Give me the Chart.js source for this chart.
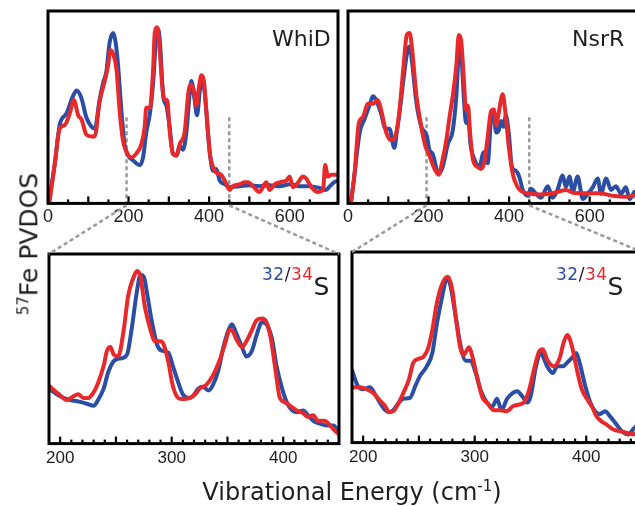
<!DOCTYPE html>
<html>
<head>
<meta charset="utf-8">
<script src="https://cdn.jsdelivr.net/npm/chart.js@4.4.1/dist/chart.umd.min.js"></script>
<style>
html, body { margin: 0; padding: 0; background: #fff; width: 635px; height: 506px; overflow: hidden; position: relative; }
canvas { position: absolute; }
.lbl { position: absolute; font-family: "DejaVu Sans", sans-serif; color: #1e1e1e; white-space: nowrap; line-height: 1; }
.sm { font-size: 17px; position: relative; top: -15px; letter-spacing: 0.5px; }
</style>
</head>
<body>
<canvas id="tl" width="314" height="233" style="left:36px;top:0px"></canvas>
<canvas id="tr" width="314" height="233" style="left:336px;top:0px"></canvas>
<canvas id="bl" width="314" height="234" style="left:36px;top:242px"></canvas>
<canvas id="br" width="314" height="235" style="left:340px;top:240px"></canvas>
<canvas id="links" width="635" height="506" style="left:0;top:0;pointer-events:none"></canvas>

<div class="lbl" style="left:272px;top:28px;font-size:22px">WhiD</div>
<div class="lbl" style="left:572px;top:28px;font-size:22px">NsrR</div>
<div class="lbl" style="left:262px;top:274px;font-size:25px"><span class="sm" style="color:#2a4ea3">32</span><span class="sm">/</span><span class="sm" style="color:#e8292b">34</span>S</div>
<div class="lbl" style="left:556px;top:274px;font-size:25px"><span class="sm" style="color:#2a4ea3">32</span><span class="sm">/</span><span class="sm" style="color:#e8292b">34</span>S</div>
<div class="lbl" style="left:29px;top:244px;font-size:25px;transform:translate(-50%,-50%) rotate(-90deg)"><sup style="font-size:15px">57</sup>Fe PVDOS</div>
<div class="lbl" style="left:352px;top:479px;font-size:24px;transform:translateX(-50%)">Vibrational Energy (cm<sup style="font-size:15px">-1</sup>)</div>

<script>
// WhiD, full range
const whid32E = [3,17,29,46,62,71,83,95,108,116,128,137,145,153,162,168,174,182,190,199,211,228,236,244,253,261,269,274,279,286,294,302,310,319,327,335,344,352,356,364,370,377,383,389,397,403,410,418,426,439,451,476,500,525,550,575,600,625,650,675,690,700,710,720];
const whid32V = [1,21,41,47,56,59,55,45,40,39,54,63,69,84,89,84,72,49,31,25,22.5,20,24,37,47,63,88,91,81,56,51,40,26,25,30,28,38,58,64,54,46,59,65,58,37,24,17,18,12,10,8.5,9,9.5,9,9.5,9,10,9,9,8,7,9,11,12];
const whid34E = [4,17,29,42,54,64,75,83,95,108,116,128,141,149,155,162,170,178,186,195,207,219,232,240,244,253,261,265,271,277,283,290,296,302,310,319,327,339,350,356,363,368,375,381,387,393,402,408,418,430,441,451,459,476,488,497,509,525,542,550,563,575,592,600,608,621,633,641,654,670,683,688,695,703,716];
const whid34V = [1.4,21,39,41,47,54,46,44,36,35,35,53,64,72,80,78,70,48,33,27,24,26,31,40,50,50,70,89,92,81,63,54,54,38,26,25,31,37,60,62,58,51,61,67,64,49,26,20,16,15,11,7,9,10,11,11,9,6,11,7,10,11,12,14,8.5,11,14,13,8.5,6,7,20,14,15,15];

// NsrR, full range
const nsrr32E = [8,16,29,41,53,62,70,82,93,103,115,121,129,139,147,153,159,169,182,190,196,202,210,225,235,248,260,269,277,283,288,293,298,304,314,326,335,341,347,355,361,368,374,380,386,392,399,407,417,425,434,446,454,467,479,496,508,520,533,541,550,558,570,583,595,608,620,628,641,653,665,678,690,699,711];
const nsrr32V = [1.4,15,37,44,51,56,54,47,39,39,29,37,49,67,79,82,74,54,40,37.5,35,28,26,15.5,19,31,38,56,84,72,54,42,46,31,23,19,26,27,21,44,47,37,38,43,40,46,37,19,17,14,7,4,7.6,5,3,9,3,7,14.6,8.5,14,6,14,2.3,5,8.5,13,5,13,7,9,5,8.5,2.3,6];
const nsrr34E = [8,16,27,37,49,62,74,82,95,107,120,128,138,146,153,159,169,182,192,202,215,225,235,244,252,260,269,275,281,287,293,298,303,310,322,330,338,347,355,362,368,374,384,391,399,409,421,434,450,475,508,541,558,591,624,657,690,711];
const nsrr34V = [1.4,15,42,45,52,52,54,49,37,33,37,49,72,88,89,81,58,40,30,25,18,15,23,33,45,56,72,88,85,67,49,51,37,23,19,18,21,35,48,49,41,47,57,47,30,15.5,8.5,6,5,4.6,5.3,7,5.6,5.3,5.3,4,3.5,4];

// WhiD, 190-450 zoom
const whidZ32E = [190,200,209,218,224,230,234,239,243,249,255,260,264,269,272,275,278,282,287,291,297,301,306,310,315,319,324,328,333,337,342,346,351,354,358,363,367,372,376,381,385,390,394,399,403,408,412,418,422,427,433,439,445,450];
const whidZ32V = [29,25,23,22,21,20,23,29,37.5,44,45,47,60,81,89,88,79,65,52,49,48,41,32,26,24,25,29,30,28,31,39,50,60,63,58,51,46,49,57,64,63,55,41,29,22,17.5,16.6,17.5,15,12,10.5,9.6,9.6,6];
const whidZ34E = [190,199,206,212,216,221,225,230,234,239,242,245,248,252,257,261,266,269,272,276,281,285,290,293,297,301,306,310,316,321,325,331,337,343,348,352,355,358,363,367,372,376,381,385,389,393,397,401,406,412,418,422,427,431,437,442,446,450];
const whidZ34V = [30.5,26,23,25,26,24,24,27,32,41,49,51,47,46,60,78,88,91,88,72,60,54,54,52,43,30.5,24,23.5,24,26,29,31,36,44,53,60,59,55,51,54,60,65,66,64,55,39,24,22,20,17.5,16,14,15,12,12,9.6,7,5];

// NsrR, 190-450 zoom
const nsrrZ32E = [190,195,200,206,211,215,220,223,227,232,236,242,247,251,257,262,266,271,275,278,283,287,292,296,301,305,311,316,320,324,329,334,338,343,347,350,355,359,365,370,374,379,383,388,391,394,399,403,408,412,417,421,426,432,438,442,445,450];
const nsrrZ32V = [38,30,28,29,25,21,17,16,17,21,23,23.5,30,35,40,47,62,77,86,83,66,52,43,43,36.5,28,21,19,23,17,23,26,27,24,21,24,40,47,40,36.5,40,40,42,45,47,42,30,22,16.5,15,16.5,14,10.4,6,4.3,7,8.7,10];
const nsrrZ34E = [190,197,203,209,215,220,223,227,232,236,241,245,250,254,258,262,266,271,276,280,283,287,290,295,298,302,307,311,317,323,329,334,340,344,349,353,358,361,365,371,376,380,383,387,391,396,400,405,409,414,418,424,430,436,442,445,450];
const nsrrZ34V = [29,29,28,26,22,19,16,16.5,21,26,33,42,44,45,49,59,73,83.5,87,80,66,50,46,50,45,35,23.5,21,17,17,16.5,19,20,21,28,38,48,49,43.5,40,44,53,56.5,51,40,28,23.5,19,14,11,9.6,7,6,5.2,4.3,5,5];

const fullTickLabels = [0, 200, 400, 600];
const zoomTickLabels = [200, 300, 400];
const zoomEdges = [195, 450];

const BLUE = '#2a4ea3';
const RED = '#e8292b';

const pts = (xs, ys) => xs.map((x, i) => ({ x: x, y: ys[i] }));

// box, inward ticks and dashed guide lines
const framePlugin = {
  id: 'frame',
  beforeDatasetsDraw(chart, args, opts) {
    if (!opts.dashes) return;
    const { ctx, chartArea: a, scales: { x, y } } = chart;
    ctx.save();
    ctx.strokeStyle = '#9a9a9a';
    ctx.lineWidth = 2.5;
    ctx.setLineDash([4, 3]);
    opts.dashes.forEach(e => {
      const px = x.getPixelForValue(e);
      ctx.beginPath();
      ctx.moveTo(px, y.getPixelForValue(opts.dashTop));
      ctx.lineTo(px, a.bottom);
      ctx.stroke();
    });
    ctx.restore();
  },
  afterDraw(chart, args, opts) {
    const { ctx, chartArea: a, scales: { x } } = chart;
    ctx.save();
    ctx.strokeStyle = '#000';
    ctx.lineWidth = 2.2;
    x.ticks.forEach(t => {
      if (t.value % opts.minor) return;
      const px = x.getPixelForValue(t.value);
      if (px <= a.left + 2 || px >= a.right - 2) return;
      const len = t.value % opts.major ? 4 : 7;
      ctx.beginPath();
      ctx.moveTo(px, a.bottom);
      ctx.lineTo(px, a.bottom - len);
      ctx.stroke();
    });
    ctx.lineWidth = 3;
    ctx.strokeRect(a.left, a.top, a.right - a.left, a.bottom - a.top);
    ctx.restore();
  }
};

function panel(id, o) {
  return new Chart(document.getElementById(id), {
    type: 'line',
    data: {
      datasets: [
        { data: pts(o.redE, o.redV), borderColor: RED },
        { data: pts(o.blueE, o.blueV), borderColor: BLUE }
      ]
    },
    options: {
      responsive: false,
      animation: false,
      layout: { padding: o.pad },
      elements: {
        point: { radius: 0 },
        line: { borderWidth: 4, cubicInterpolationMode: 'monotone', borderJoinStyle: 'round', borderCapStyle: 'round' }
      },
      plugins: {
        legend: { display: false },
        tooltip: { enabled: false },
        frame: { minor: o.minor, major: o.major, dashes: o.dashes, dashTop: 45 }
      },
      scales: {
        x: {
          type: 'linear',
          min: o.min,
          max: o.max,
          grid: { display: false, drawTicks: false },
          border: { display: false },
          ticks: {
            stepSize: o.minor,
            autoSkip: false,
            maxRotation: 0,
            padding: o.tickPad,
            color: '#1e1e1e',
            font: { family: 'Liberation Sans', size: o.font },
            callback: v => o.labels.includes(v) ? String(v) : ''
          }
        },
        y: { display: false, min: 0, max: o.ymax }
      }
    },
    plugins: [framePlugin]
  });
}

const tl = panel('tl', {
  blueE: whid32E, blueV: whid32V, redE: whid34E, redV: whid34V,
  min: 0, max: 720, minor: 50, major: 100, labels: fullTickLabels, font: 18, tickPad: 3,
  ymax: 100.5, dashes: zoomEdges, pad: { left: 12, right: 12, top: 11, bottom: 2 }
});
const tr = panel('tr', {
  blueE: nsrr32E, blueV: nsrr32V, redE: nsrr34E, redV: nsrr34V,
  min: 0, max: 720, minor: 50, major: 100, labels: fullTickLabels, font: 18, tickPad: 3,
  ymax: 100.5, dashes: zoomEdges, pad: { left: 12, right: 12, top: 11, bottom: 2 }
});
const bl = panel('bl', {
  blueE: whidZ32E, blueV: whidZ32V, redE: whidZ34E, redV: whidZ34V,
  min: 190, max: 450, minor: 10, major: 50, labels: zoomTickLabels, font: 17, tickPad: 5,
  ymax: 100, pad: { left: 13, right: 11, top: 12, bottom: 2 }
});
const br = panel('br', {
  blueE: nsrrZ32E, blueV: nsrrZ32V, redE: nsrrZ34E, redV: nsrrZ34V,
  min: 190, max: 450, minor: 10, major: 50, labels: zoomTickLabels, font: 17, tickPad: 5,
  ymax: 100, pad: { left: 12, right: 12, top: 12, bottom: 2 }
});

// dashed connectors from the full spectra down to the zoomed panels
const lc = document.getElementById('links').getContext('2d');
lc.strokeStyle = '#9a9a9a';
lc.lineWidth = 2.5;
lc.setLineDash([4, 3]);
function connect(top, bottom) {
  const t0 = { x: top.canvas.offsetLeft, y: top.canvas.offsetTop };
  const b0 = { x: bottom.canvas.offsetLeft, y: bottom.canvas.offsetTop };
  const yTop = t0.y + top.chartArea.bottom + 2;
  const yBot = b0.y + bottom.chartArea.top;
  [[zoomEdges[0], bottom.chartArea.left], [zoomEdges[1], bottom.chartArea.right]].forEach(([e, bx]) => {
    lc.beginPath();
    lc.moveTo(t0.x + top.scales.x.getPixelForValue(e), yTop);
    lc.lineTo(b0.x + bx, yBot);
    lc.stroke();
  });
}
connect(tl, bl);
connect(tr, br);
</script>
</body>
</html>
